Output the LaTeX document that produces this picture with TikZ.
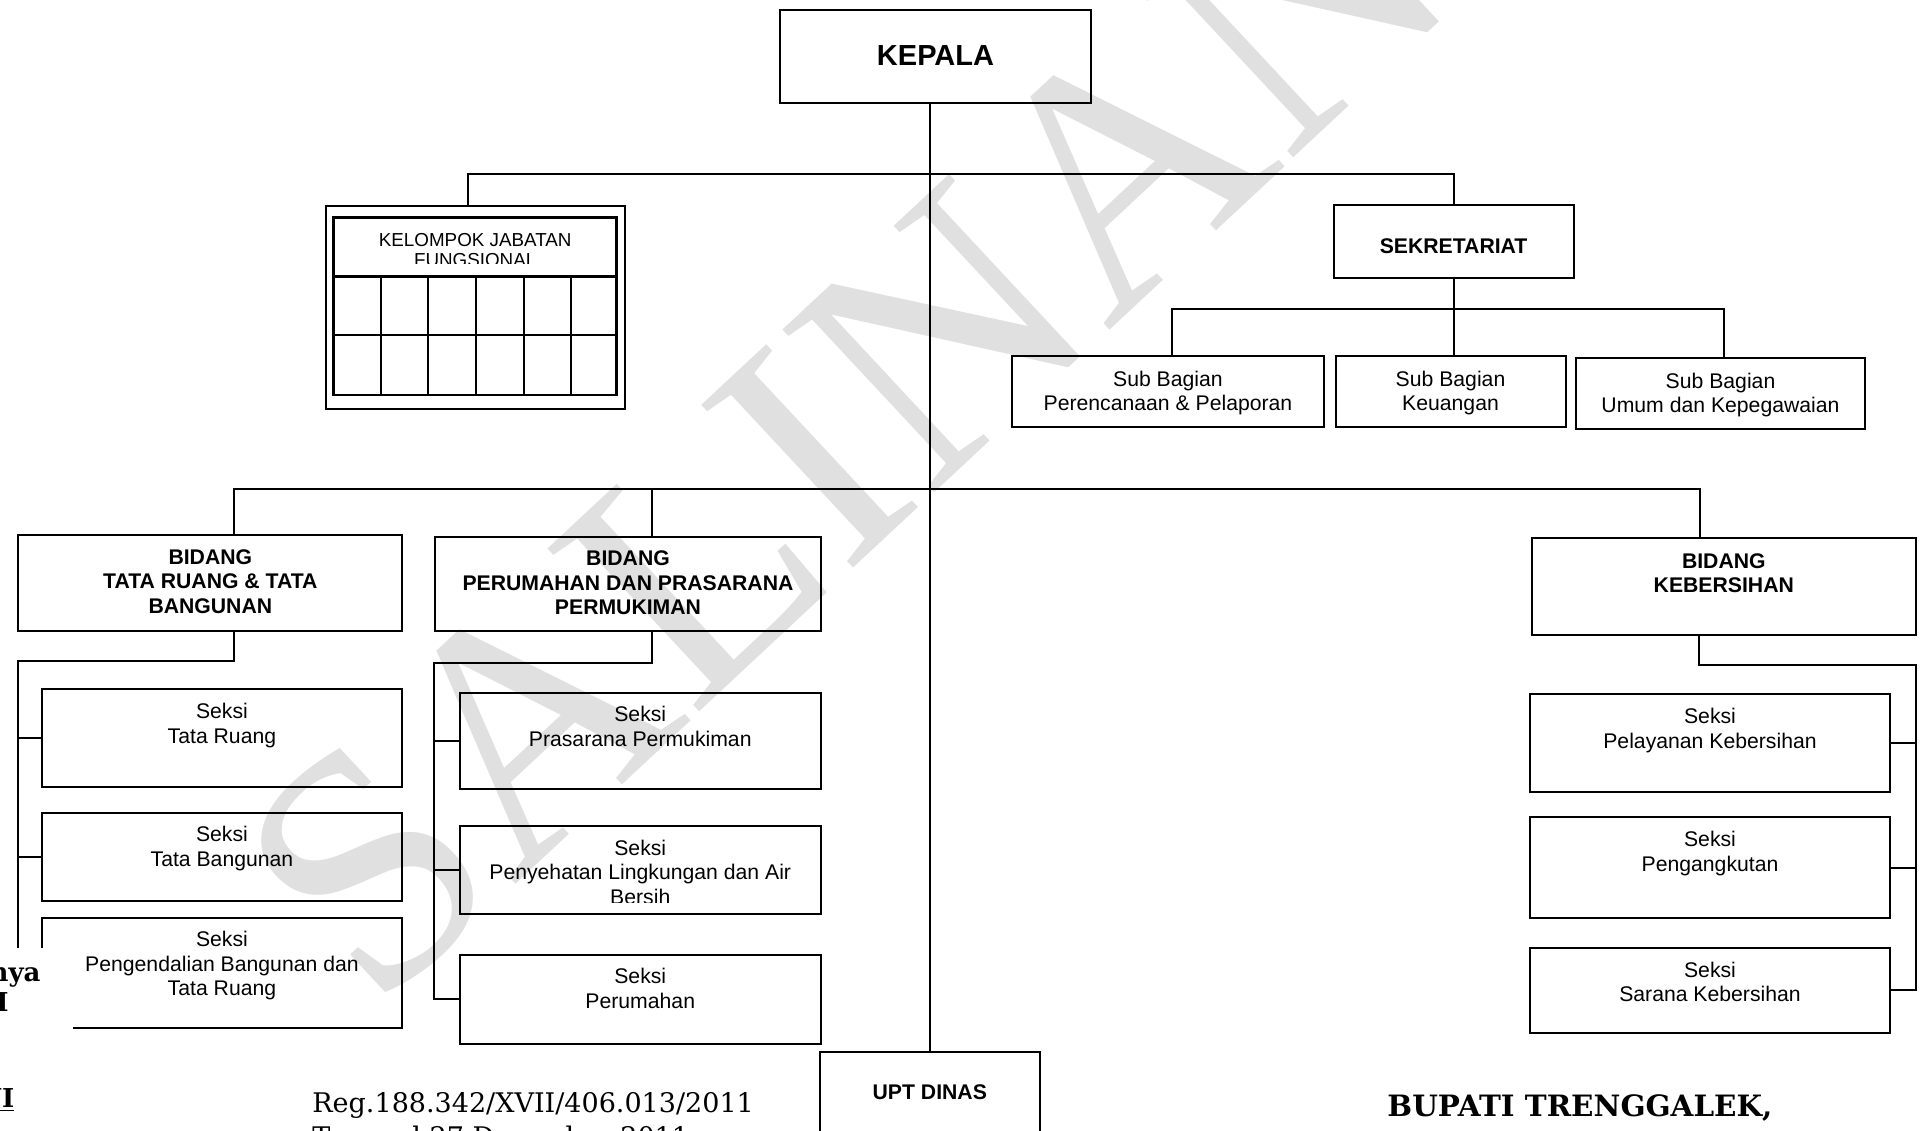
\documentclass[tikz,border=0pt]{standalone}
\usepackage{fontspec}
\setmainfont{Liberation Sans}
\newfontfamily\serifb{DejaVu Serif}
\newfontfamily\wmfont{Liberation Serif}
\usetikzlibrary{fit}
\newcommand\mlines[1]{\begin{tabular}[t]{@{}c@{}}#1\end{tabular}}
\begin{document}
\begin{tikzpicture}[x=0.5pt,y=-0.5pt,
  box/.style={draw=black, line width=1pt, inner sep=0pt, rectangle},
  conn/.style={draw=black, line width=0.95pt},
  tx/.style={inner sep=0pt, anchor=base, font=\fontsize{10.6}{12.3}\selectfont},
  btx/.style={inner sep=0pt, anchor=base, font=\bfseries\fontsize{10.6}{12.3}\selectfont},
  sertx/.style={inner sep=0pt, font=\serifb\fontsize{13.5}{15}\selectfont},
  serbtx/.style={inner sep=0pt, font=\serifb\bfseries\fontsize{13}{15}\selectfont},
  wm/.style={inner sep=0pt, text=black!12, font=\wmfont\fontsize{170}{170}\selectfont}]
\useasboundingbox (0,0) rectangle (1922,1130);
\clip (0,0) rectangle (1922,1130);

% watermark
\node[wm, rotate=43] (wmark) at (845,425) {SALINAN};

% boxes
\node[box, fit={(780,10) (1091,103)}] (kep) {};
\node[box, fit={(325.8,205.7) (624.6,409.3)}] (kjf) {};
\node[box, line width=1.4pt, fit={(333.7,217.3) (616.7,395)}] (kji) {};
\node[box, fit={(1333.6,205) (1573.5,277.7)}] (sek) {};
\node[box, fit={(1011.5,356) (1324.4,427.3)}] (sa) {};
\node[box, fit={(1335.5,356) (1565.5,427.3)}] (sb) {};
\node[box, fit={(1576,357.7) (1865,429)}] (sc) {};
\node[box, fit={(18.4,535.1) (402.3,630.9)}] (bt) {};
\node[box, fit={(435.4,536.6) (820.6,630.9)}] (bp) {};
\node[box, fit={(1531.8,538) (1915.8,634.5)}] (bk) {};
\node[box, fit={(41.6,689.4) (402.3,786.5)}] (t1) {};
\node[box, fit={(41.6,812.5) (402.3,901)}] (t2) {};
\node[box, fit={(41.6,918) (402.3,1028)}] (t3) {};
\node[box, fit={(459.9,692.6) (820.6,788.7)}] (p1) {};
\node[box, fit={(459.9,826) (820.6,914.4)}] (p2) {};
\node[box, fit={(459.9,954.7) (820.6,1043.5)}] (p3) {};
\node[box, fit={(1530,694) (1890,792)}] (k1) {};
\node[box, fit={(1530,817) (1890,918.3)}] (k2) {};
\node[box, fit={(1530,947.5) (1890,1033)}] (k3) {};
\node[box, fit={(819.6,1051.7) (1040,1170)}] (upt) {};

% table of kelompok jabatan fungsional
\draw[line width=1.4pt] (333.7,276.3) -- (616.7,276.3);
\draw[line width=1.4pt] (333.7,335) -- (616.7,335);
\foreach \cx in {381.2,428.2,475.9,523.6,570.6}
  \draw[line width=0.9pt] (\cx,276.3) -- (\cx,395);

% connectors
\coordinate (bus1) at (929,174);
\coordinate (bus2) at (929,489);
\coordinate (bus3) at (1453.6,309.3);
\draw[conn] (kep.south -| upt.north) -- (upt.north);
\draw[conn] ([xshift=-3.8pt]kjf.north) |- (bus1) -| (sek.north);
\draw[conn] (sek.south) -- (sek.south |- sb.north);
\draw[conn] ([xshift=1.8pt]sa.north) |- (bus3) -| ([xshift=1.7pt]sc.north);
\draw[conn] ([xshift=12pt]bt.north) |- (bus2) -| ([xshift=-12pt]bk.north);
\draw[conn] ([xshift=12pt]bp.north) -- ([xshift=12pt]bp.north |- bus2);

\coordinate (tb) at (18.4,660.6);
\draw[conn] ([xshift=12pt]bt.south) |- (tb) -- (tb |- t3.west) -- (t3.west);
\draw[conn] (tb |- t1.west) -- (t1.west);
\draw[conn] (tb |- t2.west) -- (t2.west);

\coordinate (pb) at (434.2,663);
\draw[conn] ([xshift=12pt]bp.south) |- (pb) -- (pb |- p3.west) -- (p3.west);
\draw[conn] (pb |- p1.west) -- (p1.west);
\draw[conn] (pb |- p2.west) -- (p2.west);

\coordinate (kb) at (1915.8,665);
\draw[conn] ([xshift=-12.5pt]bk.south) |- (kb) -- (kb |- k3.east) -- (k3.east);
\draw[conn] (kb |- k1.east) -- (k1.east);
\draw[conn] (kb |- k2.east) -- (k2.east);

% texts
\node[btx, font=\bfseries\fontsize{14.5}{17}\selectfont] (kept) at (935.5,65.7) {KEPALA};
\begin{scope}
  \clip (333.7,217.3) rectangle (616.7,263.5);
  \node[tx, font=\fontsize{9.4}{10}\selectfont] (kjft) at (475.2,246) {\mlines{KELOMPOK JABATAN\\FUNGSIONAL}};
\end{scope}
\node[btx] (sekt) at (1453.6,253.3) {SEKRETARIAT};
\node[tx] (sat) at ([yshift=-15.65pt]sa.north) {\mlines{Sub Bagian\\Perencanaan \& Pelaporan}};
\node[tx] (sbt) at ([yshift=-15.65pt]sb.north) {\mlines{Sub Bagian\\Keuangan}};
\node[tx] (sct) at ([yshift=-15.65pt]sc.north) {\mlines{Sub Bagian\\Umum dan Kepegawaian}};
\node[btx] (btt) at ([yshift=-15pt]bt.north) {\mlines{BIDANG\\TATA RUANG \& TATA\\BANGUNAN}};
\node[btx] (bpt) at ([yshift=-15pt]bp.north) {\mlines{BIDANG\\PERUMAHAN DAN PRASARANA\\PERMUKIMAN}};
\node[btx] (bkt) at ([yshift=-15.5pt]bk.north) {\mlines{BIDANG\\KEBERSIHAN}};
\node[tx] (t1t) at ([yshift=-15.25pt]t1.north) {\mlines{Seksi\\Tata Ruang}};
\node[tx] (t2t) at ([yshift=-15pt]t2.north) {\mlines{Seksi\\Tata Bangunan}};
\node[tx] (t3t) at ([yshift=-14.75pt]t3.north) {\mlines{Seksi\\Pengendalian Bangunan dan\\Tata Ruang}};
\node[tx] (p1t) at ([yshift=-15pt]p1.north) {\mlines{Seksi\\Prasarana Permukiman}};
\begin{scope}
  \clip (459.9,826) rectangle (820.6,902.5);
  \node[tx] (p2t) at ([yshift=-15pt]p2.north) {\mlines{Seksi\\Penyehatan Lingkungan dan Air\\Bersih}};
\end{scope}
\node[tx] (p3t) at ([yshift=-15pt]p3.north) {\mlines{Seksi\\Perumahan}};
\node[tx] (k1t) at ([yshift=-15.25pt]k1.north) {\mlines{Seksi\\Pelayanan Kebersihan}};
\node[tx] (k2t) at ([yshift=-15.25pt]k2.north) {\mlines{Seksi\\Pengangkutan}};
\node[tx] (k3t) at ([yshift=-15.25pt]k3.north) {\mlines{Seksi\\Sarana Kebersihan}};
\node[btx] (uptt) at (929.8,1099.5) {UPT DINAS};

% overlaid page text
\fill[white] (0,947.7) rectangle (73,1135);
\node[serbtx, anchor=base east] (nya) at (41,981.7) {nya};
\node[serbtx, anchor=base east] (mm) at (9,1011.7) {M};
\node[serbtx, anchor=base east] (ui) at (14.7,1107) {\underline{UI}};
\node[sertx, anchor=base west] (reg) at (312,1112) {Reg.188.342/XVII/406.013/2011};
\node[sertx, anchor=base west] (tgl) at (312,1146) {Tanggal 27 Desember 2011};
\node[serbtx, anchor=base west, font=\serifb\bfseries\fontsize{14.7}{16}\selectfont] (bup) at (1387,1116.7) {BUPATI TRENGGALEK,};
\end{tikzpicture}
\end{document}
